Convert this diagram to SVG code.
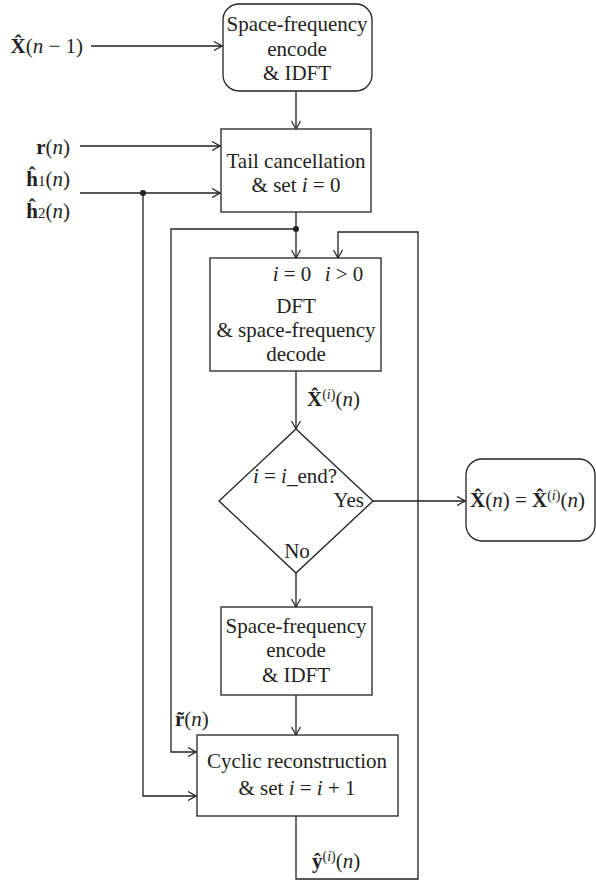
<svg xmlns="http://www.w3.org/2000/svg" width="596" height="884" viewBox="0 0 596 884">
<style>
  .box{fill:#fff;stroke:#231f20;stroke-width:1.3}
  .ln{fill:none;stroke:#231f20;stroke-width:1.3}
  text{font-family:"Liberation Serif","Times New Roman",serif;font-size:21px;fill:#231f20}
  .c{text-anchor:middle}
  .r{text-anchor:end}
  .i{font-style:italic}
  .b{font-weight:bold}
  .sup{font-size:14px}
</style>
<defs>
  <marker id="ah" viewBox="0 0 10 10" refX="9" refY="5" markerWidth="10" markerHeight="10" markerUnits="userSpaceOnUse" orient="auto">
    <path d="M1,0.5 L9,5 L1,9.5" fill="none" stroke="#231f20" stroke-width="1.2"/>
  </marker>
</defs>
<rect width="596" height="884" fill="#fff"/>

<g id="connectors">
  <path class="ln" d="M91,46 H222" marker-end="url(#ah)"/>
  <path class="ln" d="M296,91 V129" marker-end="url(#ah)"/>
  <path class="ln" d="M80,146 H220" marker-end="url(#ah)"/>
  <path class="ln" d="M80,193 H220" marker-end="url(#ah)"/>
  <path class="ln" d="M143,193 V796 H196" marker-end="url(#ah)"/>
  <path class="ln" d="M296,212 V258" marker-end="url(#ah)"/>
  <path class="ln" d="M296,229 H171 V752 H196" marker-end="url(#ah)"/>
  <path class="ln" d="M296,371 V429" marker-end="url(#ah)"/>
  <path class="ln" d="M373,501 H465" marker-end="url(#ah)"/>
  <path class="ln" d="M296,573 V607" marker-end="url(#ah)"/>
  <path class="ln" d="M296,695 V735" marker-end="url(#ah)"/>
  <path class="ln" d="M296,816 V879 H418 V232 H338 V258" marker-end="url(#ah)"/>
  <circle cx="143" cy="193" r="3" fill="#231f20"/>
  <circle cx="296" cy="229" r="3" fill="#231f20"/>
</g>

<g id="labels">
  <text class="r" x="83" y="53"><tspan class="b">X&#x302;</tspan>(<tspan class="i">n</tspan> − 1)</text>
  <text class="r" x="70" y="154"><tspan class="b">r</tspan>(<tspan class="i">n</tspan>)</text>
  <text class="r" x="70" y="186"><tspan class="b">ĥ</tspan><tspan font-size="15">1</tspan>(<tspan class="i">n</tspan>)</text>
  <text class="r" x="70" y="218"><tspan class="b">ĥ</tspan><tspan font-size="15">2</tspan>(<tspan class="i">n</tspan>)</text>
  <text x="307" y="406"><tspan class="b">X&#x302;</tspan><tspan class="sup" dy="-7">(<tspan class="i">i</tspan>)</tspan><tspan dy="7">(</tspan><tspan class="i">n</tspan>)</text>
  <text x="175" y="726"><tspan class="b">r&#x303;</tspan>(<tspan class="i">n</tspan>)</text>
  <text x="312" y="868"><tspan class="b">ŷ</tspan><tspan class="sup" dy="-7">(<tspan class="i">i</tspan>)</tspan><tspan dy="7">(</tspan><tspan class="i">n</tspan>)</text>
</g>

<g id="sf-encode-1">
  <rect class="box" x="223" y="4" width="149" height="87" rx="16"/>
  <text class="c" x="297" y="31">Space-frequency</text>
  <text class="c" x="297" y="56">encode</text>
  <text class="c" x="297" y="80">&amp; IDFT</text>
</g>

<g id="tail-cancel">
  <rect class="box" x="221" y="129" width="150" height="83"/>
  <text class="c" x="296" y="168">Tail cancellation</text>
  <text class="c" x="296" y="192">&amp; set <tspan class="i">i</tspan> = 0</text>
</g>

<g id="dft-decode">
  <rect class="box" x="210" y="258" width="171" height="113"/>
  <text class="c" x="292" y="281"><tspan class="i">i</tspan> = 0</text>
  <text class="c" x="344" y="281"><tspan class="i">i</tspan> &gt; 0</text>
  <text class="c" x="296" y="313">DFT</text>
  <text class="c" x="296" y="337">&amp; space-frequency</text>
  <text class="c" x="296" y="361">decode</text>
</g>

<g id="decision">
  <polygon class="box" points="296,429 373,501 296,573 219,501"/>
  <text class="c" x="295" y="483"><tspan class="i">i</tspan> = <tspan class="i">i</tspan>_end?</text>
  <text class="r" x="364" y="507">Yes</text>
  <text class="c" x="297" y="558">No</text>
</g>

<g id="output">
  <rect class="box" x="466" y="459" width="129" height="82" rx="16"/>
  <text x="470" y="507"><tspan class="b">X&#x302;</tspan>(<tspan class="i">n</tspan>) = <tspan class="b">X&#x302;</tspan><tspan class="sup" dy="-7">(<tspan class="i">i</tspan>)</tspan><tspan dy="7">(</tspan><tspan class="i">n</tspan>)</text>
</g>

<g id="sf-encode-2">
  <rect class="box" x="221" y="607" width="151" height="88"/>
  <text class="c" x="296" y="633">Space-frequency</text>
  <text class="c" x="296" y="657">encode</text>
  <text class="c" x="296" y="682">&amp; IDFT</text>
</g>

<g id="cyclic">
  <rect class="box" x="197" y="735" width="201" height="81"/>
  <text class="c" x="297" y="768">Cyclic reconstruction</text>
  <text class="c" x="297" y="795">&amp; set <tspan class="i">i</tspan> = <tspan class="i">i</tspan> + 1</text>
</g>
</svg>
